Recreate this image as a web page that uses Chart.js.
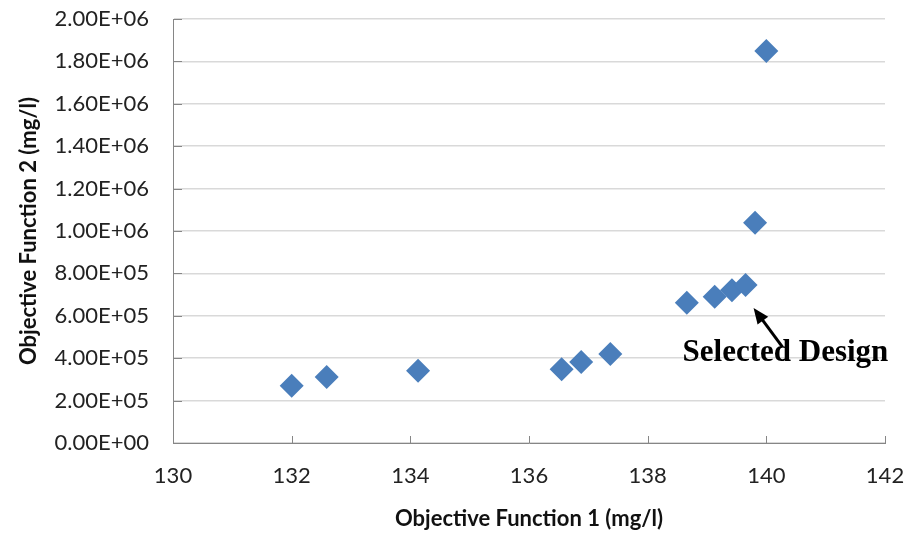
<!DOCTYPE html>
<html>
<head>
<meta charset="utf-8">
<script src="https://cdn.jsdelivr.net/npm/chart.js@4.4.0/dist/chart.umd.min.js"></script>
<style>
  html, body { margin: 0; padding: 0; background: #fff; }
  #wrap { width: 908px; height: 537px; }
</style>
</head>
<body>
<div id="wrap"><canvas id="paretoChart" width="908" height="537"></canvas></div>
<script>
// Objective Function 1 (mg/l) values
const objective1 = [132.0, 132.59, 134.13, 136.55, 136.88, 137.37, 138.66, 139.13, 139.42, 139.65, 139.81, 140.0];
// Objective Function 2 (mg/l) values
const objective2 = [270000, 311000, 341000, 348000, 382000, 420000, 662000, 690000, 720000, 745000, 1039000, 1849000];
const xTicks = [130, 132, 134, 136, 138, 140, 142];
const yTicks = [0, 200000, 400000, 600000, 800000, 1000000, 1200000, 1400000, 1600000, 1800000, 2000000];
const selectedIndex = 9;
const selectedLabel = 'Selected Design';

const axisColor = '#868686';
const gridColor = '#d9d9d9';
const tickFont = { family: 'Lato', size: 22 };
const titleFont = { family: 'Lato', size: 22, weight: 'bold' };

// short tick marks drawn on the inside of both axes
const insideTicks = {
    id: 'insideTicks',
    afterDraw(chart) {
        const { ctx, scales: { x, y } } = chart;
        ctx.save();
        ctx.strokeStyle = axisColor;
        ctx.lineWidth = 1;
        xTicks.forEach(v => {
            const px = Math.round(x.getPixelForValue(v)) + 0.5;
            ctx.beginPath();
            ctx.moveTo(px, y.bottom);
            ctx.lineTo(px, y.bottom - 7);
            ctx.stroke();
        });
        yTicks.forEach(v => {
            const py = Math.round(y.getPixelForValue(v)) + 0.5;
            ctx.beginPath();
            ctx.moveTo(x.left, py);
            ctx.lineTo(x.left + 9, py);
            ctx.stroke();
        });
        ctx.restore();
    }
};

// arrow + text pointing at the selected design
const selectedNote = {
    id: 'selectedNote',
    afterDatasetsDraw(chart) {
        const { ctx, scales: { x, y } } = chart;
        const px = x.getPixelForValue(objective1[selectedIndex]);
        const py = y.getPixelForValue(objective2[selectedIndex]);
        const tipX = px + 8, tipY = py + 23;
        const tailX = px + 37, tailY = py + 62;
        const ang = Math.atan2(tipY - tailY, tipX - tailX);
        const head = 17;
        ctx.save();
        ctx.strokeStyle = '#000';
        ctx.fillStyle = '#000';
        ctx.lineWidth = 3;
        ctx.beginPath();
        ctx.moveTo(tailX, tailY);
        ctx.lineTo(tipX - Math.cos(ang) * head * 0.8, tipY - Math.sin(ang) * head * 0.8);
        ctx.stroke();
        ctx.beginPath();
        ctx.moveTo(tipX, tipY);
        ctx.lineTo(tipX - head * Math.cos(ang - 0.4), tipY - head * Math.sin(ang - 0.4));
        ctx.lineTo(tipX - head * Math.cos(ang + 0.4), tipY - head * Math.sin(ang + 0.4));
        ctx.closePath();
        ctx.fill();
        ctx.font = 'bold 31px "Liberation Serif"';
        ctx.textAlign = 'left';
        ctx.textBaseline = 'alphabetic';
        ctx.fillText(selectedLabel, px - 63, py + 76);
        ctx.restore();
    }
};

const ctx = document.getElementById('paretoChart').getContext('2d');

new Chart(ctx, {
    type: 'scatter',
    data: {
        datasets: [{
            label: 'Designs',
            data: objective1.map((v, i) => ({ x: v, y: objective2[i] })),
            backgroundColor: '#4a7ebb',
            borderColor: '#4a7ebb',
            borderWidth: 0,
            pointStyle: 'rect',
            rotation: 45,
            pointRadius: 12,
            pointHoverRadius: 12
        }]
    },
    options: {
        responsive: false,
        animation: false,
        layout: { padding: { left: 0, right: 23, top: 19, bottom: 0 } },
        plugins: {
            legend: { display: false },
            tooltip: { enabled: false }
        },
        scales: {
            x: {
                type: 'linear',
                min: 130,
                max: 142,
                afterBuildTicks: s => { s.ticks = xTicks.map(v => ({ value: v })); },
                afterFit: s => { s.height = 94; s.paddingLeft = 0; s.paddingRight = 0; },
                grid: { display: false, drawTicks: false },
                border: { display: true, color: axisColor, width: 1 },
                ticks: { color: '#222', font: tickFont, padding: 20, maxRotation: 0 },
                title: {
                    display: true,
                    text: 'Objective Function 1 (mg/l)',
                    color: '#111',
                    font: titleFont,
                    padding: { top: 0, bottom: 5 }
                }
            },
            y: {
                type: 'linear',
                min: 0,
                max: 2000000,
                afterBuildTicks: s => { s.ticks = yTicks.map(v => ({ value: v })); },
                afterFit: s => { s.width = 173; s.paddingTop = 0; s.paddingBottom = 0; },
                grid: { color: gridColor, lineWidth: 1.5, drawTicks: false },
                border: { display: true, color: axisColor, width: 1 },
                ticks: {
                    color: '#222',
                    font: tickFont,
                    padding: 24,
                    callback: v => Number(v).toExponential(2).toUpperCase().replace(/E([+-])(\d)$/, 'E$10$2')
                },
                title: {
                    display: true,
                    text: 'Objective Function 2 (mg/l)',
                    color: '#111',
                    font: titleFont,
                    padding: { top: 16, bottom: 0 }
                }
            }
        }
    },
    plugins: [insideTicks, selectedNote]
});
</script>
</body>
</html>
